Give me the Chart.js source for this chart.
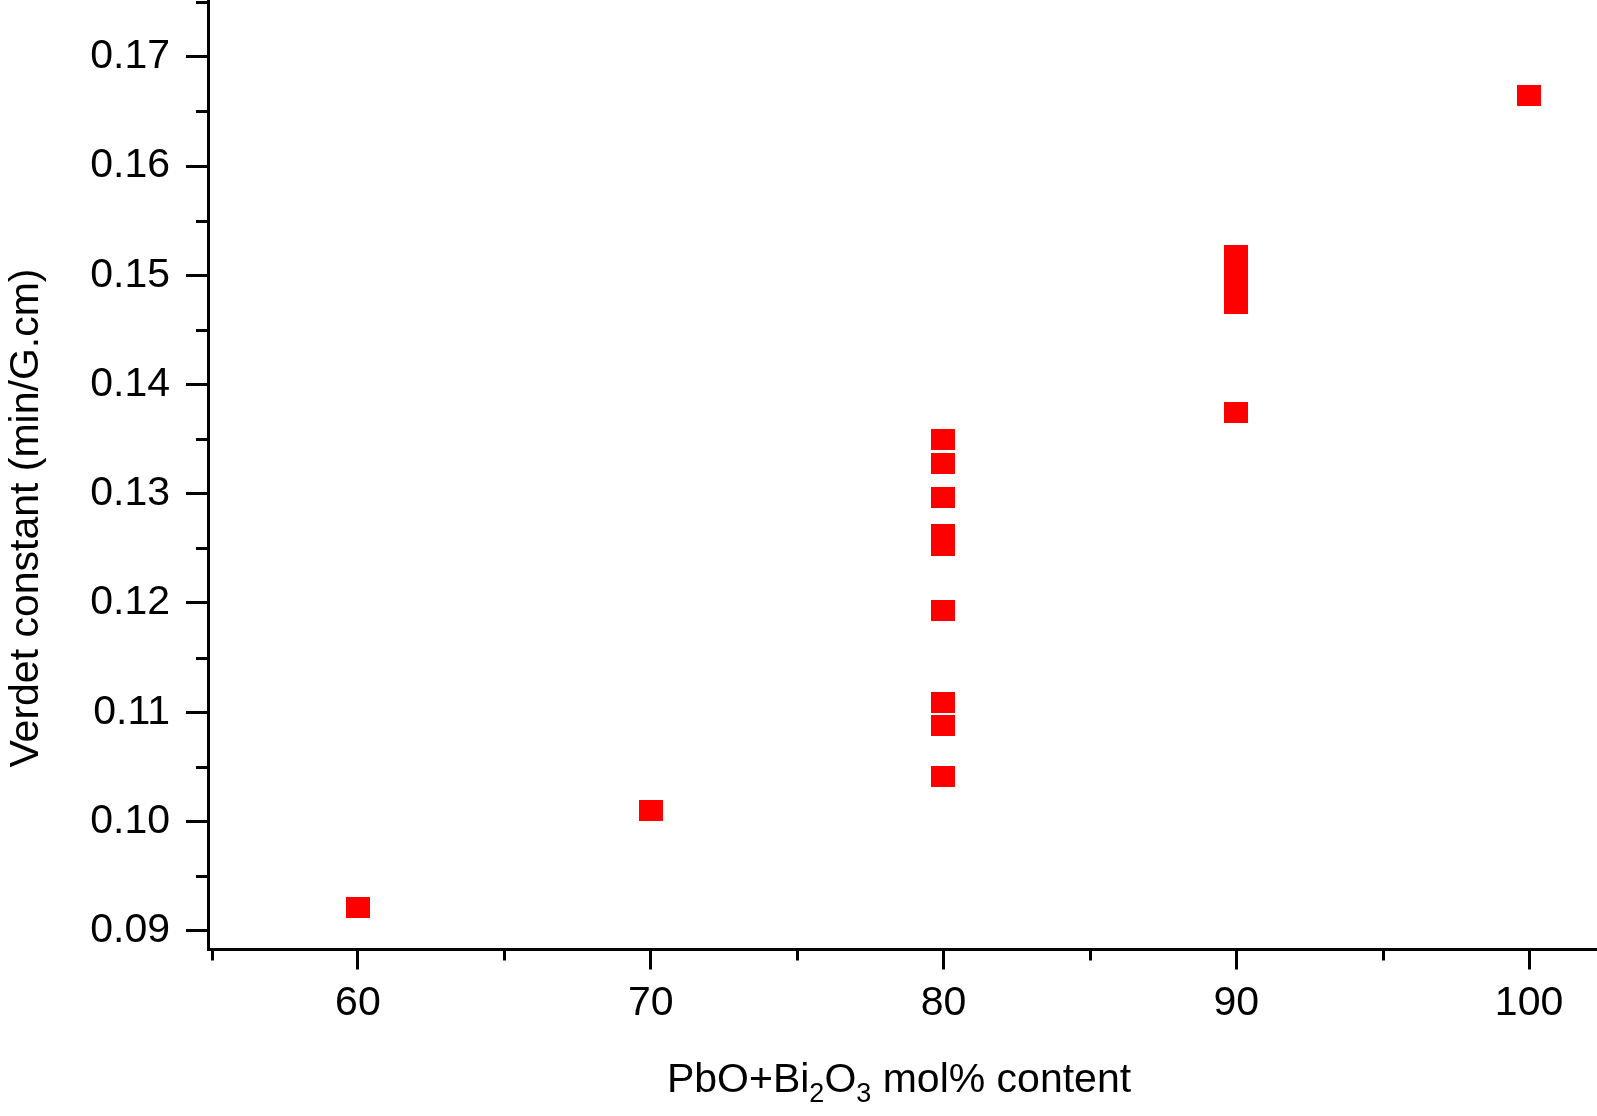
<!DOCTYPE html>
<html>
<head>
<meta charset="utf-8">
<script src="https://cdn.jsdelivr.net/npm/chart.js@4.4.1/dist/chart.umd.min.js"></script>
<style>
  html, body { margin: 0; padding: 0; background: #fff; }
  canvas { display: block; }
</style>
</head>
<body>
<canvas id="chart" width="1597" height="1116"></canvas>
<script>
// measured points (x = mol% content, y = Verdet constant)
const xValues = [60, 70, 80, 80, 80, 80, 80, 80, 80, 80, 80, 90, 90, 90, 90, 90, 100];
const yValues = [0.0921, 0.1010, 0.1350, 0.1328, 0.1297, 0.1263, 0.1253, 0.1193, 0.1109, 0.1088, 0.1041,
                 0.1518, 0.1503, 0.1489, 0.1474, 0.1374, 0.1665];

const xTickValues = [55, 60, 65, 70, 75, 80, 85, 90, 95, 100];
const xTickLabels = ['', '60', '', '70', '', '80', '', '90', '', '100'];
const yTickValues = [0.09, 0.095, 0.10, 0.105, 0.11, 0.115, 0.12, 0.125, 0.13, 0.135,
                     0.14, 0.145, 0.15, 0.155, 0.16, 0.165, 0.17, 0.175];
const yTickLabels = ['0.09', '', '0.10', '', '0.11', '', '0.12', '', '0.13', '',
                     '0.14', '', '0.15', '', '0.16', '', '0.17', ''];

const yTitle = 'Verdet constant (min/G.cm)';
const FONT = "'Liberation Sans', Arial, Helvetica, sans-serif";

window.addEventListener('load', function() {
    // red rectangle marker
    const marker = document.createElement('canvas');
    marker.width = 24;
    marker.height = 21;
    const mctx = marker.getContext('2d');
    mctx.fillStyle = '#ff0000';
    mctx.fillRect(0, 0, 24, 21);

    const points = xValues.map((x, i) => ({x: x, y: yValues[i]}));

    // short ticks where there is no label, plus the axis titles
    const extras = {
        id: 'extras',
        afterDraw(chart) {
            const ctx = chart.ctx;
            const xs = chart.scales.x;
            const ys = chart.scales.y;
            ctx.save();
            ctx.strokeStyle = '#000';
            ctx.lineWidth = 3;
            xs.ticks.forEach((t, i) => {
                if (xTickLabels[i] !== '') return;
                const px = Math.round(xs.getPixelForValue(t.value)) + 0.5;
                ctx.beginPath();
                ctx.moveTo(px, xs.top);
                ctx.lineTo(px, xs.top + 11);
                ctx.stroke();
            });
            ys.ticks.forEach((t, i) => {
                if (yTickLabels[i] !== '') return;
                const py = Math.round(ys.getPixelForValue(t.value)) + 0.5;
                ctx.beginPath();
                ctx.moveTo(ys.right, py);
                ctx.lineTo(ys.right - 12, py);
                ctx.stroke();
            });

            ctx.fillStyle = '#000';
            // y title
            ctx.save();
            ctx.translate(38, 518);
            ctx.rotate(-Math.PI / 2);
            ctx.font = '41px ' + FONT;
            ctx.textAlign = 'center';
            ctx.textBaseline = 'alphabetic';
            ctx.fillText(yTitle, 0, 0);
            ctx.restore();

            // x title with subscripts
            const parts = [
                {t: 'PbO+Bi', sub: false},
                {t: '2', sub: true},
                {t: 'O', sub: false},
                {t: '3', sub: true},
                {t: ' mol% content', sub: false}
            ];
            const big = '41px ' + FONT;
            const small = '27px ' + FONT;
            let total = 0;
            parts.forEach(p => {
                ctx.font = p.sub ? small : big;
                p.w = ctx.measureText(p.t).width;
                total += p.w;
            });
            let cx = 899 - total / 2;
            const base = 1092;
            ctx.textAlign = 'left';
            ctx.textBaseline = 'alphabetic';
            parts.forEach(p => {
                ctx.font = p.sub ? small : big;
                ctx.fillText(p.t, cx, p.sub ? base + 10 : base);
                cx += p.w;
            });
            ctx.restore();
        }
    };

    function noPadding(scale) {
        scale.paddingTop = 0;
        scale.paddingBottom = 0;
        scale.paddingLeft = 0;
        scale.paddingRight = 0;
    }

    const config = {
        type: 'scatter',
        data: {
            datasets: [{
                data: points,
                pointStyle: marker,
                pointRadius: 12,
                pointHoverRadius: 12,
                backgroundColor: '#ff0000',
                borderColor: '#ff0000',
                clip: false
            }]
        },
        options: {
            responsive: false,
            animation: false,
            events: [],
            layout: { padding: 0, autoPadding: false },
            plugins: {
                legend: { display: false },
                tooltip: { enabled: false }
            },
            scales: {
                x: {
                    type: 'linear',
                    min: 54.88,
                    max: 102.32,
                    afterBuildTicks: function(scale) {
                        scale.ticks = xTickValues.map(v => ({value: v}));
                    },
                    afterFit: function(scale) {
                        scale.height = 166.5;
                        noPadding(scale);
                    },
                    border: { display: true, color: '#000', width: 3 },
                    grid: {
                        drawOnChartArea: false,
                        drawTicks: true,
                        tickLength: 20,
                        tickWidth: 3,
                        tickColor: c => xTickLabels[c.index] === '' ? 'rgba(0,0,0,0)' : '#000'
                    },
                    ticks: {
                        autoSkip: false,
                        maxRotation: 0,
                        padding: 10,
                        color: '#000',
                        font: { family: FONT, size: 41 },
                        callback: (v, i) => xTickLabels[i]
                    }
                },
                y: {
                    type: 'linear',
                    min: 0.08828,
                    max: 0.1752,
                    afterBuildTicks: function(scale) {
                        scale.ticks = yTickValues.map(v => ({value: v}));
                    },
                    afterFit: function(scale) {
                        scale.width = 208;
                        noPadding(scale);
                    },
                    border: { display: true, color: '#000', width: 3 },
                    grid: {
                        drawOnChartArea: false,
                        drawTicks: true,
                        tickLength: 22,
                        tickWidth: 3,
                        tickColor: c => yTickLabels[c.index] === '' ? 'rgba(0,0,0,0)' : '#000'
                    },
                    ticks: {
                        autoSkip: false,
                        padding: 16,
                        color: '#000',
                        font: { family: FONT, size: 41 },
                        callback: (v, i) => yTickLabels[i]
                    }
                }
            }
        },
        plugins: [extras]
    };

    new Chart(document.getElementById('chart'), config);
});
</script>
</body>
</html>
